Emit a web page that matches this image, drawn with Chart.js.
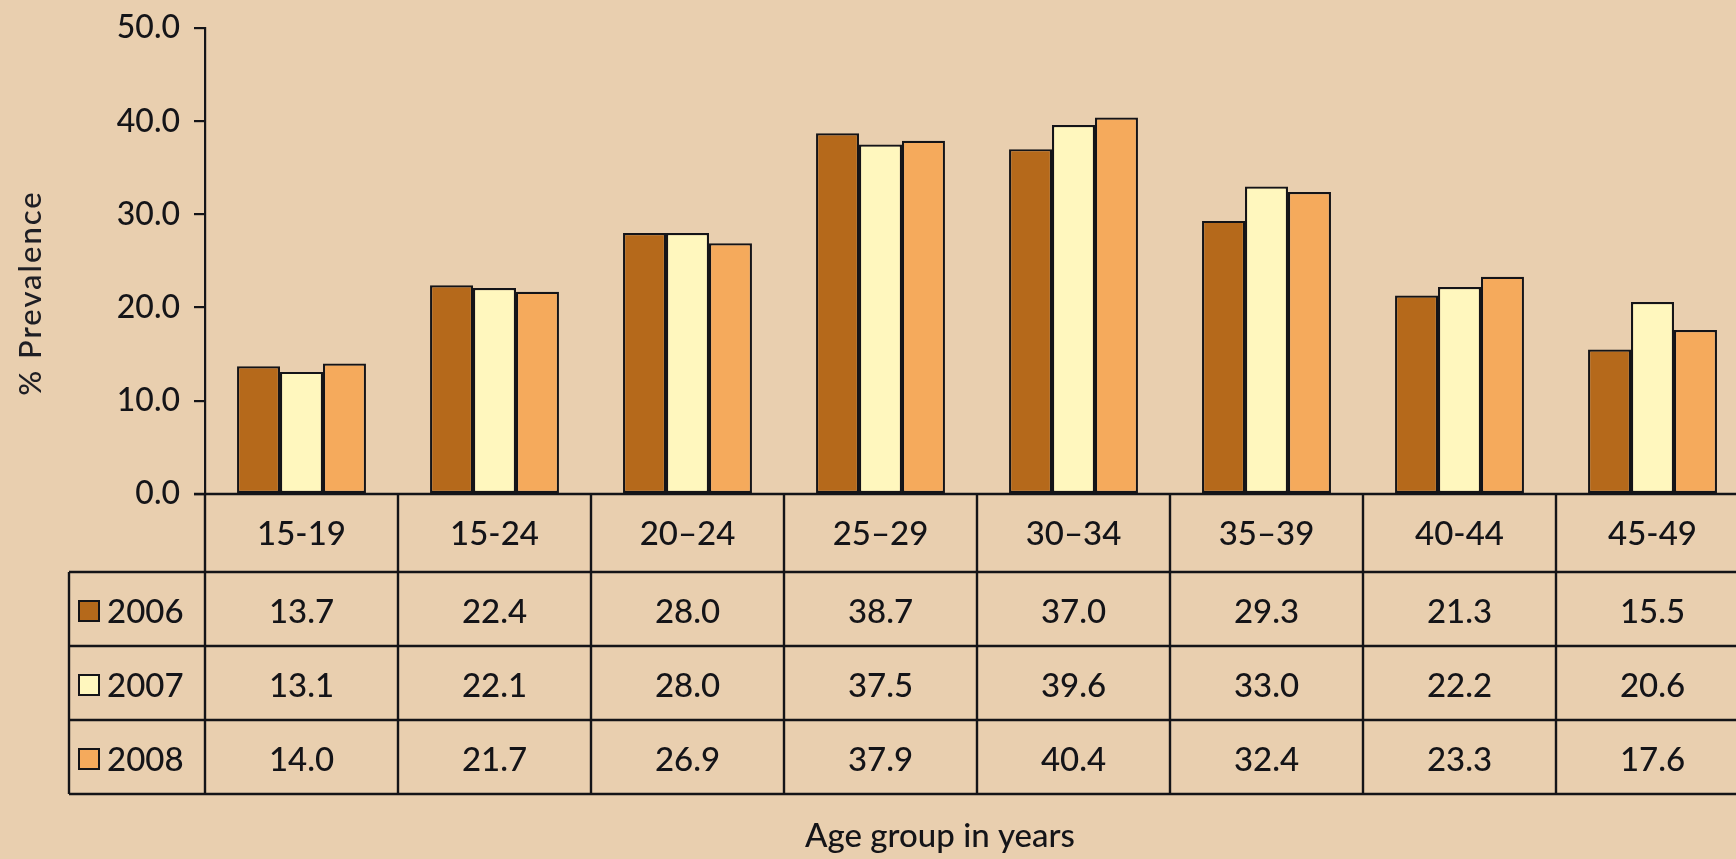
<!DOCTYPE html>
<html>
<head>
<meta charset="utf-8">
<script src="https://cdn.jsdelivr.net/npm/chart.js@4.4.0/dist/chart.umd.min.js"></script>
<style>
html,body{margin:0;padding:0;background:#E9CFAF;overflow:hidden;width:1736px;height:859px}
canvas{display:block}
</style>
</head>
<body>
<canvas id="c" width="1760" height="859" style="width:1760px;height:859px"></canvas>
<script>
const categories = ['15-19', '15-24', '20–24', '25–29', '30–34', '35–39', '40-44', '45-49'];
const years = ['2006', '2007', '2008'];
const values2006 = [13.7, 22.4, 28.0, 38.7, 37.0, 29.3, 21.3, 15.5];
const values2007 = [13.1, 22.1, 28.0, 37.5, 39.6, 33.0, 22.2, 20.6];
const values2008 = [14.0, 21.7, 26.9, 37.9, 40.4, 32.4, 23.3, 17.6];
const yTicks = [0, 10, 20, 30, 40, 50];
const yTitle = '% Prevalence';
const xTitle = 'Age group in years';

const seriesValues = [values2006, values2007, values2008];
const colors = ['#B5691B', '#FFF7BE', '#F5AA5C'];
const INK = '#141418';
const FONT = 'Lato, "Open Sans", sans-serif';

const bgPlugin = {
  id: 'bg',
  beforeDraw(chart) {
    const ctx = chart.ctx;
    ctx.save();
    ctx.fillStyle = '#E9CFAF';
    ctx.fillRect(0, 0, chart.width, chart.height);
    ctx.restore();
  }
};

const tablePlugin = {
  id: 'dataTable',
  afterDraw(chart) {
    const ctx = chart.ctx, xs = chart.scales.x, ys = chart.scales.y, ca = chart.chartArea;
    const n = categories.length;
    const cw = (ca.right - ca.left) / n;
    const top = ys.getPixelForValue(0);
    const headerH = 78, rowH = 74;
    const headBottom = top + headerH;
    const bottom = headBottom + rowH * years.length;
    const tableLeft = 69;
    ctx.save();
    ctx.strokeStyle = INK;
    ctx.lineWidth = 2.4;
    const line = (x1, y1, x2, y2) => { ctx.beginPath(); ctx.moveTo(x1, y1); ctx.lineTo(x2, y2); ctx.stroke(); };
    // baseline (x axis)
    line(ca.left - 11, top, chart.width, top);
    // horizontal table lines
    for (let r = 0; r <= years.length; r++) {
      const y = headBottom + r * rowH;
      line(tableLeft, y, chart.width, y);
    }
    // left border
    line(tableLeft, headBottom, tableLeft, bottom);
    // vertical separators
    for (let i = 0; i <= n; i++) {
      const x = i < n ? xs.getPixelForValue(i) - cw / 2 : xs.getPixelForValue(n - 1) + cw / 2;
      line(x, top, x, bottom);
    }
    ctx.fillStyle = INK;
    ctx.font = '500 33px ' + FONT;
    ctx.textAlign = 'center';
    ctx.textBaseline = 'middle';
    // header labels
    categories.forEach((c, i) => {
      ctx.fillText(c, xs.getPixelForValue(i), top + headerH / 2 + 1);
    });
    // rows
    years.forEach((yr, r) => {
      const cy = headBottom + r * rowH + rowH / 2 + 3;
      ctx.lineWidth = 2;
      ctx.fillStyle = colors[r];
      ctx.fillRect(79, cy - 11, 20, 20);
      ctx.strokeStyle = INK;
      ctx.strokeRect(79, cy - 11, 20, 20);
      ctx.fillStyle = INK;
      ctx.textAlign = 'left';
      ctx.fillText(yr, 107, cy);
      ctx.textAlign = 'center';
      seriesValues[r].forEach((v, i) => {
        ctx.fillText(v.toFixed(1), xs.getPixelForValue(i), cy);
      });
    });
    // x axis title
    ctx.font = '500 33px ' + FONT;
    ctx.textBaseline = 'alphabetic';
    ctx.fillText(xTitle, 940, 847);
    // y axis title
    ctx.translate(31, 293);
    ctx.rotate(-Math.PI / 2);
    ctx.font = '500 31px ' + FONT;
    ctx.fillStyle = '#1e1e24';
    ctx.textBaseline = 'middle';
    ctx.letterSpacing = '2px';
    ctx.fillText(yTitle, 0, 0);
    ctx.restore();
  }
};

new Chart(document.getElementById('c'), {
  type: 'bar',
  data: {
    labels: categories,
    datasets: years.map((yr, r) => ({
      label: yr,
      data: seriesValues[r],
      backgroundColor: colors[r],
      borderColor: INK,
      borderWidth: 2.2,
      borderSkipped: false,
      categoryPercentage: 0.668,
      barPercentage: 1.0
    }))
  },
  options: {
    responsive: false,
    devicePixelRatio: 1,
    animation: false,
    layout: { padding: { top: 28, right: 11, bottom: 365, left: 0 } },
    plugins: { legend: { display: false }, tooltip: { enabled: false } },
    scales: {
      x: { display: false },
      y: {
        min: 0, max: 50,
        afterFit(scale) { scale.width = 205; scale.paddingTop = 0; scale.paddingBottom = 0; },
        afterBuildTicks(scale) { scale.ticks = yTicks.map(v => ({ value: v })); },
        ticks: {
          callback: v => Number(v).toFixed(1),
          color: INK,
          font: { family: FONT, size: 32, weight: '500' },
          padding: 14
        },
        grid: { drawOnChartArea: false, drawTicks: true, tickLength: 11, color: INK, lineWidth: 2.2 },
        border: { display: true, color: INK, width: 2.2 },
        title: { display: false }
      }
    }
  },
  plugins: [bgPlugin, tablePlugin]
});
</script>
</body>
</html>
